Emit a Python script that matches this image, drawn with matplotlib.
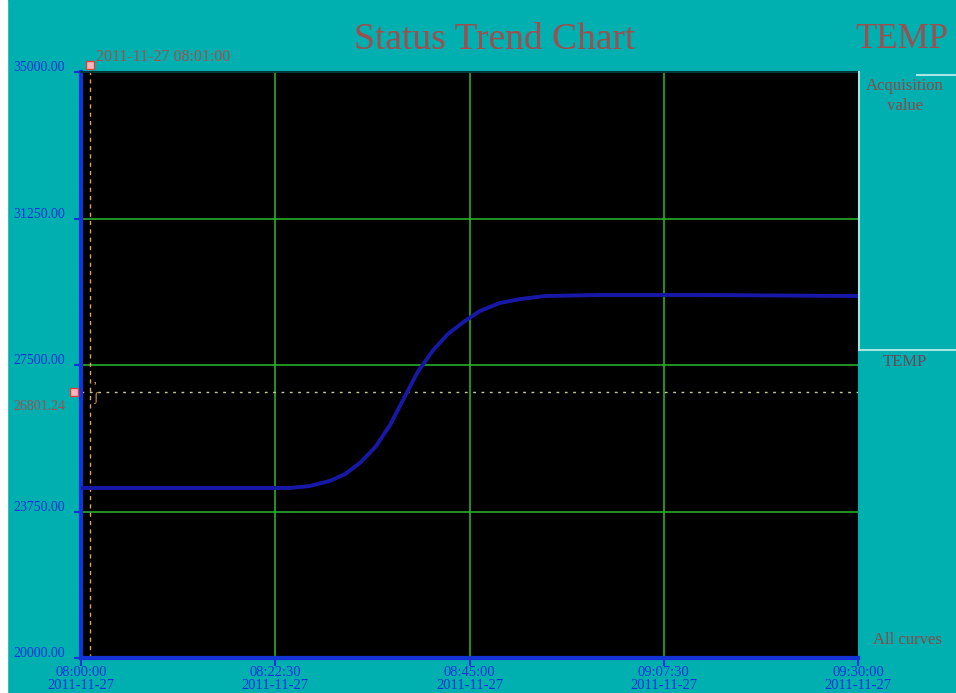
import datetime as dt
import matplotlib
matplotlib.use("Agg")
import matplotlib.pyplot as plt
from matplotlib.transforms import blended_transform_factory

plt.rcParams['font.family'] = ['Liberation Serif', 'DejaVu Serif']

# data
start = dt.datetime(2011, 11, 27, 8, 0, 0)
minutes = [0, 22.5, 24.2, 26.5, 28.8, 30.6, 32.3, 34.1, 35.8, 37.3, 39.0,
           40.8, 42.5, 44.3, 46.2, 48.5, 50.9, 53.8, 60.1, 71.7, 90.0]
temp = [24352, 24352, 24352, 24403, 24531, 24710, 24992, 25401, 25964, 26604,
        27321, 27884, 28293, 28601, 28882, 29087, 29189, 29266, 29292, 29292, 29266]
y_ticks = [20000, 23750, 27500, 31250, 35000]
x_ticks_min = [0, 22.5, 45, 67.5, 90]
cursor_min = 1.0
cursor_value = 26801.24

times = [start + dt.timedelta(minutes=m) for m in minutes]
x_ticks = [start + dt.timedelta(minutes=m) for m in x_ticks_min]
cursor_time = start + dt.timedelta(minutes=cursor_min)

teal = '#00AFAF'
blue = '#1434D8'
label_red = '#A05050'
grid_green = '#2DB82D'

fig = plt.figure(figsize=(9.56, 6.93), dpi=100, facecolor=teal)
# white strip on the left edge
fig.patches.append(plt.Rectangle((0, 0), 7 / 956, 1, transform=fig.transFigure,
                                 color='white', zorder=0))

ax = fig.add_axes([81 / 956, 35 / 693, 777 / 956, 586 / 693])
ax.set_facecolor('black')
ax.set_xlim(x_ticks[0], x_ticks[-1])
ax.set_ylim(y_ticks[0], y_ticks[-1])

for s in ['left', 'bottom']:
    ax.spines[s].set_color(blue)
    ax.spines[s].set_linewidth(3)
ax.spines['top'].set_color('#003838')
ax.spines['top'].set_linewidth(1.5)
ax.spines['right'].set_visible(False)

# grid (inner lines only)
for v in y_ticks[1:-1]:
    ax.axhline(v, color=grid_green, lw=1.1, zorder=1)
for t in x_ticks[1:-1]:
    ax.axvline(t, color=grid_green, lw=1.1, zorder=1)

ax.plot(times, temp, color='#1818A8', lw=2.8, zorder=3,
        solid_capstyle='round', solid_joinstyle='round')

# y tick labels sit just above their lines
ax.set_yticks(y_ticks)
ax.set_yticklabels([])
ax.tick_params(axis='y', direction='out', length=5, width=1.5, color=blue)
ytr = blended_transform_factory(fig.transFigure, ax.transData)
for v in y_ticks:
    ax.text(13 / 956, v + 110, f"{v:.2f}", transform=ytr, color=blue, fontsize=10,
            ha='left', va='center', clip_on=False)

ax.set_xticks(x_ticks)
ax.set_xticklabels([t.strftime('%H:%M:%S') + '\n' + t.strftime('%Y-%m-%d') for t in x_ticks],
                   color=blue, fontsize=10.5, linespacing=0.95)
ax.tick_params(axis='x', direction='out', length=6, width=1.5, color=blue, pad=0)

# cursors
ax.axvline(cursor_time, color='#D8A868', lw=1, ls=(0, (3, 3)), zorder=2)
ax.axhline(cursor_value, color='#C8C898', lw=1, ls=(0, (2, 4)), zorder=2)
ax.plot([cursor_time], [y_ticks[-1] + 170], marker='s', ms=6, color='#F4B8B8',
        mec='#E04040', mew=1, clip_on=False, zorder=5)
ax.plot([-0.009], [cursor_value], marker='s', ms=6, color='#F4B8B8', mec='#E04040',
        mew=1, transform=blended_transform_factory(ax.transAxes, ax.transData),
        clip_on=False, zorder=5)
ax.text(cursor_time + dt.timedelta(minutes=0.7), y_ticks[-1] + 180,
        cursor_time.strftime('%Y-%m-%d %H:%M:%S'), color=label_red, fontsize=11.5,
        ha='left', va='bottom', clip_on=False)
ax.text(13 / 956, cursor_value - 360, f"{cursor_value:.2f}", transform=ytr, color=label_red,
        fontsize=10, ha='left', va='center', clip_on=False)
ax.text(cursor_time + dt.timedelta(minutes=0.4), cursor_value, '\u02bc\n\u0283', color='#E8B040',
        fontsize=9, ha='left', va='center', linespacing=0.9)

# titles and side panel
fig.text(495 / 956, 1 - 40 / 693, 'Status Trend Chart', color='#9E4E4E', fontsize=27,
         ha='center', va='center')
fig.text(902 / 956, 1 - 40 / 693, 'TEMP', color='#9E4E4E', fontsize=25,
         ha='center', va='center')
fig.text(905 / 956, 1 - 96 / 693, 'Acquisition\nvalue', color='#8A4A4A', fontsize=12,
         ha='center', va='center', linespacing=1.25)
fig.text(905 / 956, 1 - 362 / 693, 'TEMP', color='#6A4A5A', fontsize=12,
         ha='center', va='center')
fig.text(907 / 956, 1 - 640 / 693, 'All curves', color='#8A4A4A', fontsize=12,
         ha='center', va='center')

light = '#A8E4E4'
fig.add_artist(plt.Line2D([859 / 956, 859 / 956], [1 - 72 / 693, 1 - 350 / 693],
                          transform=fig.transFigure, color=light, lw=1.5))
fig.add_artist(plt.Line2D([859 / 956, 1], [1 - 350 / 693, 1 - 350 / 693],
                          transform=fig.transFigure, color=light, lw=1.5))
fig.add_artist(plt.Line2D([917 / 956, 1], [1 - 75 / 693, 1 - 75 / 693],
                          transform=fig.transFigure, color=light, lw=1.5))

fig.savefig('out.png', dpi=100, facecolor=teal)
